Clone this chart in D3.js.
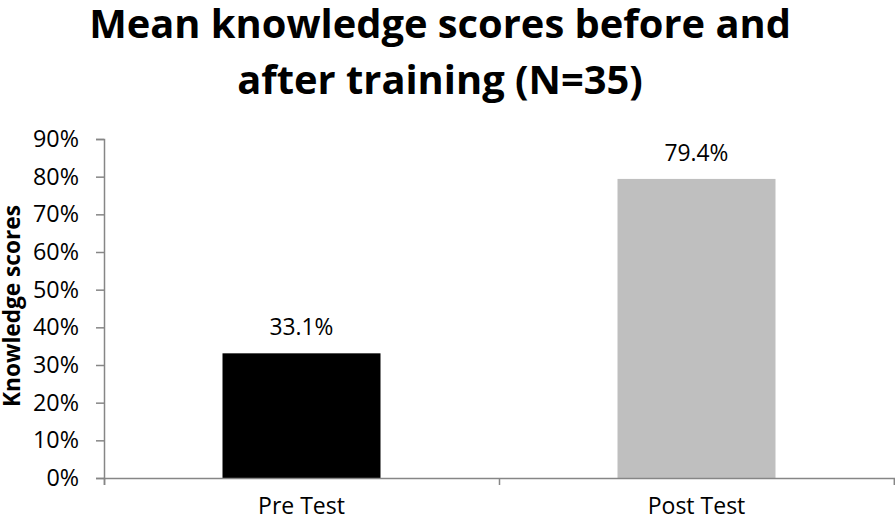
<!DOCTYPE html>
<html><head><meta charset="utf-8">
<script src="https://cdn.jsdelivr.net/npm/d3@7"></script>
<style>body{margin:0;background:#fff} svg{display:block}</style>
</head><body>
<svg id="c" width="895" height="521"></svg>
<script>
const categories = ["Pre Test", "Post Test"];
const values = [0.331, 0.794];
const valueLabels = ["33.1%", "79.4%"];
const yTicks = [0, 0.1, 0.2, 0.3, 0.4, 0.5, 0.6, 0.7, 0.8, 0.9];
const titleLines = ["Mean knowledge scores before and", "after training (N=35)"];
const yTitle = "Knowledge scores";
const barColors = ["#000000", "#bfbfbf"];

const FONT = "'Open Sans', 'DejaVu Sans', sans-serif";
const axisColor = "#868686";
const svg = d3.select("#c");

function fit(sel, target) {
  sel.attr("font-size", 100);
  const l = sel.node().getComputedTextLength();
  const fs = 100 * target / l;
  sel.attr("font-size", fs);
  return fs;
}

const y = d3.scaleLinear().domain([0, 0.9]).range([478, 139]);
const x = d3.scaleBand().domain(categories).range([104, 894]).paddingInner(0.6).paddingOuter(0.3);
const xb = d3.scaleLinear().domain([0, categories.length]).range([104, 894]);

// bars
svg.append("g").selectAll("rect").data(values).join("rect")
  .attr("x", (d, i) => x(categories[i]))
  .attr("width", x.bandwidth())
  .attr("y", d => y(d))
  .attr("height", d => y(0) - y(d))
  .attr("fill", (d, i) => barColors[i]);

// y axis
const ya = svg.append("g").attr("transform", "translate(104,0)")
  .call(d3.axisLeft(y).tickValues(yTicks).tickSize(8).tickPadding(17).tickFormat(d3.format(".0%")));
ya.select(".domain").attr("stroke", axisColor).attr("stroke-width", 1.5);
ya.selectAll(".tick line").attr("stroke", axisColor).attr("stroke-width", 1.5);
ya.selectAll(".tick text").attr("font-family", FONT).attr("fill", "#000");
let tfs = 100;
{
  const t = ya.selectAll(".tick text").filter(d => d === 0.9);
  tfs = fit(t, 46);
}
ya.selectAll(".tick text").attr("font-size", tfs);

// x axis (boundary ticks)
const xa = svg.append("g").attr("transform", "translate(0,478)")
  .call(d3.axisBottom(xb).tickValues(d3.range(categories.length + 1)).tickSize(7).tickFormat(""));
xa.select(".domain").attr("stroke", axisColor).attr("stroke-width", 1.5);
xa.selectAll(".tick line").attr("stroke", axisColor).attr("stroke-width", 1.5);

// category labels
const cl = svg.append("g").selectAll("text").data(categories).join("text")
  .attr("x", d => x(d) + x.bandwidth() / 2)
  .attr("y", 514)
  .attr("text-anchor", "middle")
  .attr("font-family", FONT)
  .text(d => d);
const cfs = fit(cl.filter((d, i) => i === 0), 87);
cl.attr("font-size", cfs);

// value labels
const vl = svg.append("g").selectAll("text").data(values).join("text")
  .attr("x", (d, i) => x(categories[i]) + x.bandwidth() / 2)
  .attr("y", d => y(d) - 18)
  .attr("text-anchor", "middle")
  .attr("font-family", FONT)
  .text((d, i) => valueLabels[i]);
const vfs = fit(vl.filter((d, i) => i === 0), 64);
vl.attr("font-size", vfs);

// y title
const yt = svg.append("text")
  .attr("transform", "translate(20,306) rotate(-90)")
  .attr("text-anchor", "middle")
  .attr("font-family", FONT)
  .attr("font-weight", "bold")
  .text(yTitle);
fit(yt, 202);

// title
const tl = svg.append("g").selectAll("text").data(titleLines).join("text")
  .attr("x", 440)
  .attr("y", (d, i) => [38, 94][i])
  .attr("text-anchor", "middle")
  .attr("font-family", FONT)
  .attr("font-weight", "bold")
  .text(d => d);
const ttfs = fit(tl.filter((d, i) => i === 0), 702);
tl.attr("font-size", ttfs);
</script>
</body></html>
